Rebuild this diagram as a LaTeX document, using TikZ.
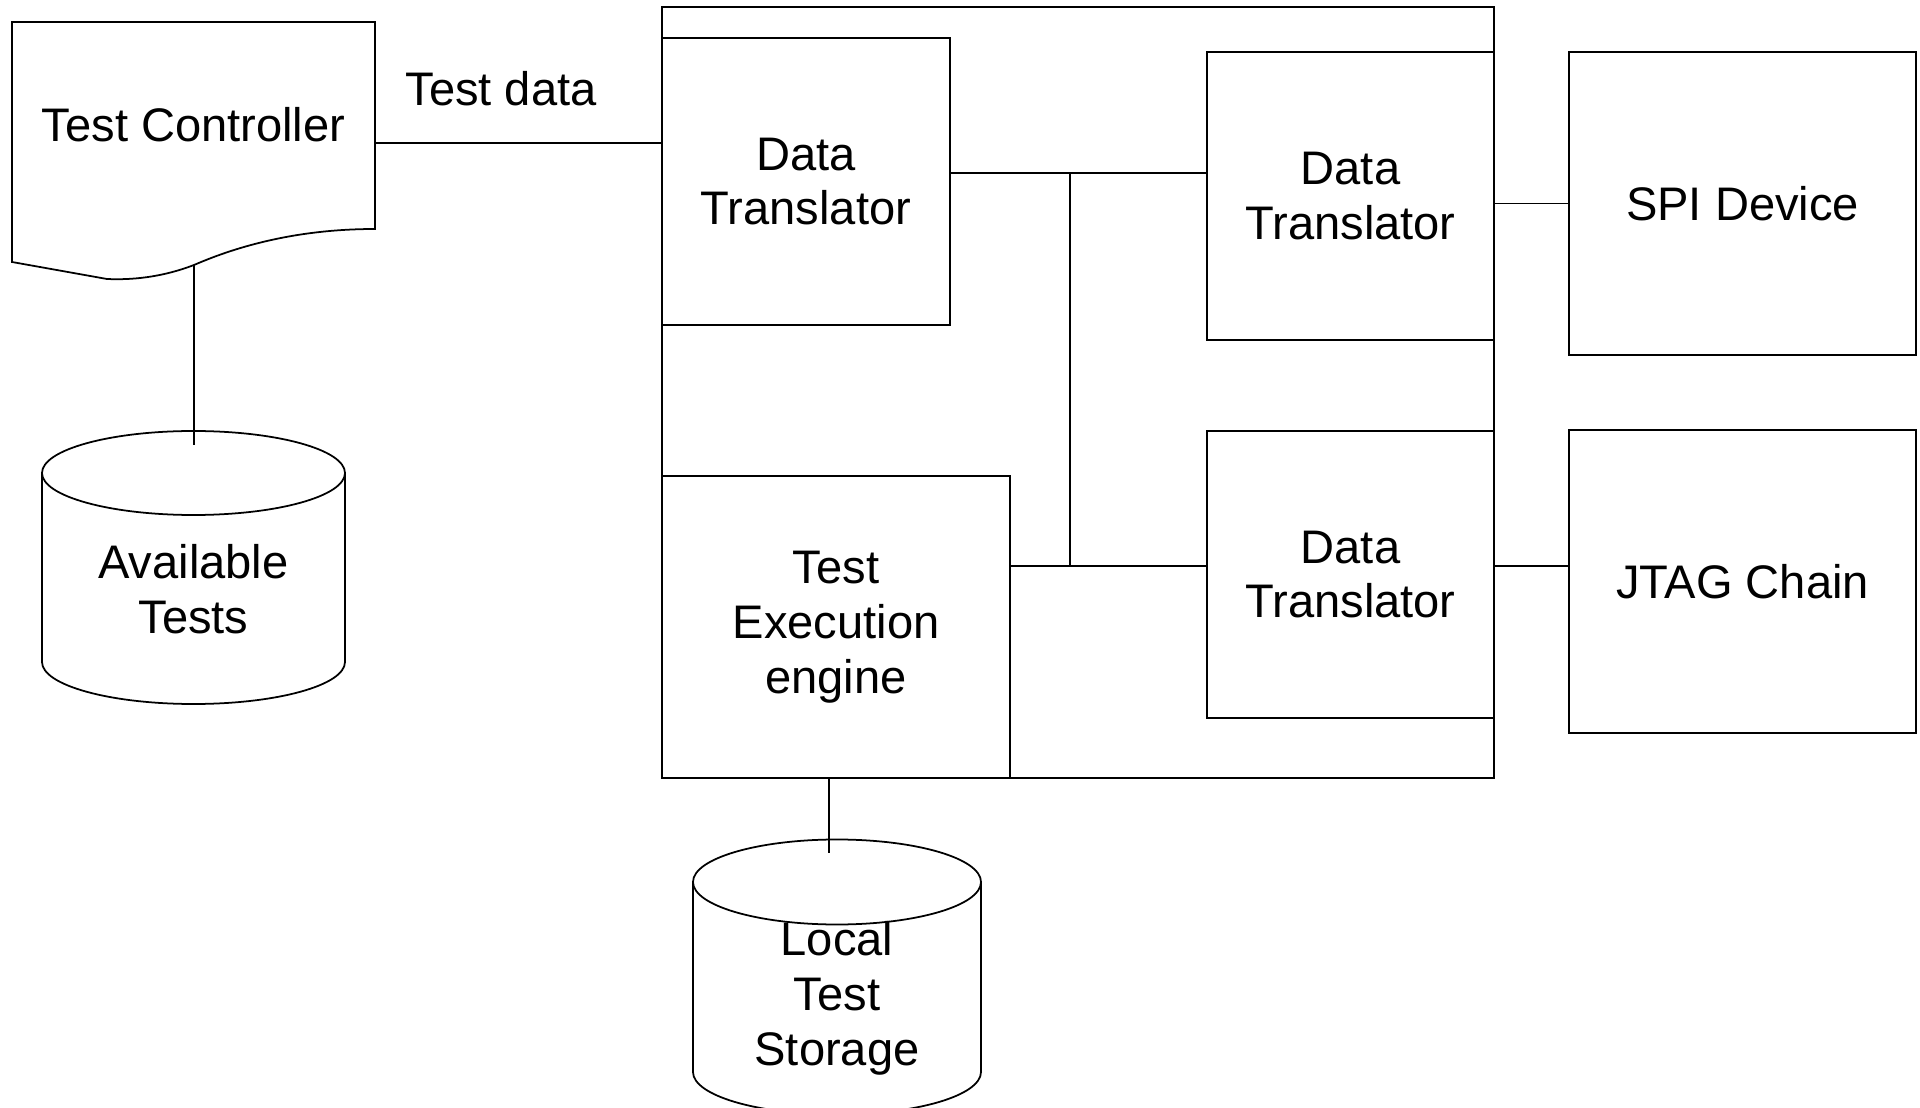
\documentclass[tikz,border=0pt]{standalone}
\usepackage{fontspec}
\setmainfont{Liberation Sans}

\tikzstyle{block} = [rectangle, draw, align=center, inner sep=0pt]
\tikzstyle{tag} = [align=center, inner sep=0pt]

\begin{document}
\begin{tikzpicture}[x=0.1mm, y=-0.1mm, line width=0.5pt,
                    font=\fontsize{13.4}{15.6}\selectfont]
  \useasboundingbox (0,0) rectangle (1920,1108);

  % test controller (document shape)
  \node[tag] (tc) at (193.5,125) {Test Controller};
  \draw (12,22) -- (375,22) -- (375,229)
        .. controls (300,229) and (240,245) .. (194,265)
        .. controls (160,278) and (130,280) .. (107,279) -- (12,262) -- cycle;
  \coordinate (tcfoot) at (194,265);
  \coordinate (tcport) at (375,143);

  % available tests
  \draw (193.5,473) ellipse [x radius=15.15mm, y radius=4.2mm];
  \draw (42,473) -- (42,662) arc[start angle=180, end angle=360, x radius=15.15mm, y radius=4.2mm] -- (345,473);
  \node[tag] (avail) at (193.5,589) {Available\\Tests};
  \coordinate (availtop) at (194,445);

  % tester unit
  \node[block, minimum width=83.2mm, minimum height=77.1mm] (unit) at (1078,392.5) {};
  \node[block, minimum width=28.8mm, minimum height=28.7mm] (dt1)  at (806,181.5)  {Data\\Translator};
  \node[block, minimum width=28.7mm, minimum height=28.8mm] (dt2)  at (1350.5,196) {Data\\Translator};
  \node[block, minimum width=28.7mm, minimum height=28.7mm] (dt3)  at (1350.5,574.5) {Data\\Translator};
  \node[block, minimum width=34.8mm, minimum height=30.2mm] (tee)  at (836,627)    {Test\\Execution\\engine};

  % targets
  \node[block, minimum width=34.7mm, minimum height=30.3mm] (spi)  at (1742.5,203.5) {SPI Device};
  \node[block, minimum width=34.7mm, minimum height=30.3mm] (jtag) at (1742.5,581.5) {JTAG Chain};

  % local test storage
  \draw (837,882) ellipse [x radius=14.4mm, y radius=4.25mm];
  \draw (693,882) -- (693,1072) arc[start angle=180, end angle=360, x radius=14.4mm, y radius=4.25mm] -- (981,882);
  \node[tag] (local) at (837,998) {Local\\Test\\Storage};
  \coordinate (localtop) at (829,853);

  \coordinate (bustop) at (1070,173);
  \coordinate (busbot) at (1070,566);

  \node[tag] (tdata) at (501,89) {Test data};
  \draw (tcport) -- (tcport -| unit.west);
  \draw (tcfoot) -- (availtop);
  \draw (dt1.east |- bustop) -- (dt2.west |- bustop);
  \draw (bustop) -- (busbot);
  \draw (tee.east |- busbot) -- (dt3.west |- busbot);
  \draw (spi.west -| dt2.east) -- (spi.west);
  \draw (dt3.east |- busbot) -- (jtag.west |- busbot);
  \draw (localtop |- tee.south) -- (localtop);
\end{tikzpicture}
\end{document}
